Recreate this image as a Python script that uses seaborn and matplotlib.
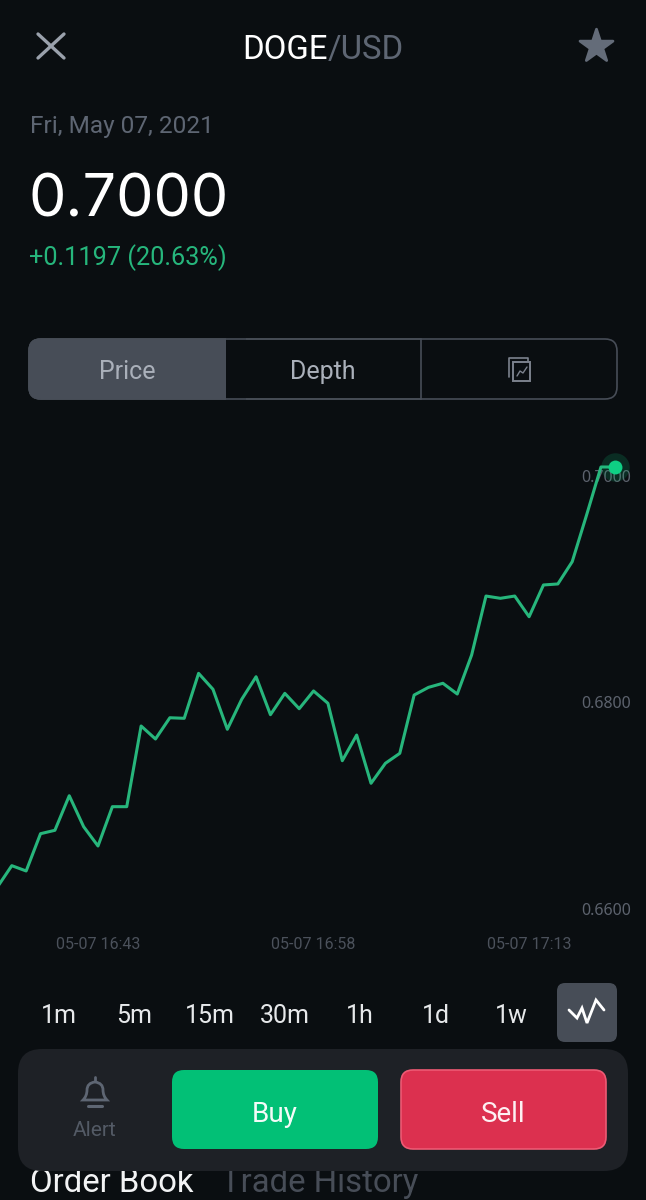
import matplotlib
matplotlib.use("Agg")
import matplotlib.pyplot as plt
from matplotlib.patches import FancyBboxPatch, Rectangle
from matplotlib.path import Path
from matplotlib.patches import PathPatch
from matplotlib.transforms import ScaledTranslation
import pandas as pd
import seaborn as sns

# price per minute, 16:36 to 17:19
minutes = list(range(-7, 37))
prices = [0.66283, 0.66472, 0.66425, 0.66755, 0.66785, 0.67091, 0.66817, 0.66646,
          0.66994, 0.66994, 0.67708, 0.67593, 0.67781, 0.67776, 0.68174, 0.68033,
          0.67679, 0.67944, 0.68144, 0.67808, 0.67997, 0.67861, 0.68018, 0.67909,
          0.67401, 0.67628, 0.67201, 0.67378, 0.67466, 0.67982, 0.68050, 0.68086,
          0.67991, 0.68336, 0.68858, 0.68838, 0.68858, 0.68675, 0.68956, 0.68965,
          0.69162, 0.69575, 0.70000, 0.70000]
price_ticks = [0.66, 0.68, 0.70]
price_labels = ["0.6600", "0.6800", "0.7000"]
time_ticks = [0, 15, 30]
time_labels = ["05-07 16:43", "05-07 16:58", "05-07 17:13"]
ranges = ["1m", "5m", "15m", "30m", "1h", "1d", "1w"]
range_x = [59, 134, 210, 285, 360, 436, 511]

BG = "#0a0e11"
GREY = "#5e6673"
TILE = "#474d57"
PANEL = "#1e2126"
LINE = "#27b67c"
DOT = "#0fcf84"

W, H = 646, 1200

sns.set_theme(style="dark")
plt.rcParams["font.family"] = ["Roboto", "DejaVu Sans"]

fig = plt.figure(figsize=(W / 100, H / 100), dpi=100, facecolor=BG)

# ui layer, in screen pixels
ui = fig.add_axes([0, 0, 1, 1], zorder=0)
ui.set_xlim(0, W)
ui.set_ylim(H, 0)
ui.axis("off")


def box(x0, y0, x1, y1, r, color, edge="none", lw=0, z=2):
    p = FancyBboxPatch((x0 + r, y0 + r), x1 - x0 - 2 * r, y1 - y0 - 2 * r,
                       boxstyle=f"round,pad={r},rounding_size={r}",
                       fc=color, ec=edge, lw=lw, zorder=z)
    ui.add_patch(p)
    return p


def label(x, y, s, size, color, ha="center", va="center", z=5, family=None):
    kw = {"family": family} if family else {}
    ui.text(x, y, s, fontsize=size, color=color, ha=ha, va=va, zorder=z, **kw)


# header
ui.plot([38, 64], [34, 58], color="#9aa1ac", lw=2.4, solid_capstyle="round")
ui.plot([38, 64], [58, 34], color="#9aa1ac", lw=2.4, solid_capstyle="round")
label(328, 50, "DOGE", 23.7, "white", ha="right")
label(328, 50, "/USD", 23.7, GREY, ha="left")
ui.scatter([595.5], [46], marker="*", s=620, color="#646c79", linewidths=2,
           edgecolors="#646c79", zorder=3)

label(30, 127, "Fri, May 07, 2021", 17.6, GREY, ha="left")
label(29, 201, "0.7000", 42.7, "white", ha="left", family="Inter")
label(29, 258, "+0.1197 (20.63%)", 18.2, "#26b67c", ha="left")

# price / depth tabs
box(29, 339, 617, 399, 12, BG, edge=TILE, lw=1.2)
price_tab = box(29, 339, 240, 399, 12, TILE, edge=TILE, lw=1.2, z=3)
ui.add_patch(Rectangle((226, 335), 20, 70, fc=BG, ec="none", zorder=4))
ui.plot([226, 421], [339, 339], color=TILE, lw=1.2, zorder=5)
ui.plot([226, 421], [399, 399], color=TILE, lw=1.2, zorder=5)
ui.plot([421, 421], [339, 399], color=TILE, lw=1.2, zorder=5)
label(127, 372, "Price", 18, "#aab0ba")
label(323, 372, "Depth", 18, "#aab0ba")
ui.plot([528, 528, 509, 509], [361, 358, 358, 377], color="#7c828d", lw=1.2, zorder=5)
ui.add_patch(Rectangle((513, 362), 17, 19, fc="none", ec="#7c828d", lw=1.4, zorder=5))
ui.plot([517, 520, 523, 527], [376, 371, 373, 367], color="#7c828d", lw=1, zorder=5)

# range selector
for x, s in zip(range_x, ranges):
    label(x, 1016, s, 18, "#e6e8ea")
box(557, 983, 617, 1042, 8, TILE)
ui.plot([569, 577, 582, 587, 596, 604], [1010, 1018, 1008, 1023, 1000, 1010],
        color="white", lw=2, zorder=5, solid_joinstyle="miter")

# tabs that slide under the action panel
label(30, 1183, "Order Book", 23.7, "#f2f3f4", ha="left", z=1)
label(221, 1183, "Trade History", 23.7, TILE, ha="left", z=1)

# action panel
box(18, 1049, 628, 1171, 24, PANEL)
box(172, 1070, 378, 1149, 12, "#02c076", z=3)
box(401, 1070, 606, 1149, 12, "#dc304f", edge="#ee5a74", lw=1.2, z=3)
label(275, 1114, "Buy", 20, "#f4fbf8")
label(503, 1114, "Sell", 20, "#fdf0f2")
label(95, 1131, "Alert", 15, "#535a65")

# bell
bell = Path([(83, 1100), (87, 1096), (87, 1090), (87, 1083), (95, 1082), (95, 1082),
             (95, 1082), (103, 1083), (103, 1090), (103, 1096), (107, 1100), (83, 1100)],
            [Path.MOVETO, Path.CURVE3, Path.CURVE3, Path.CURVE3, Path.CURVE3, Path.LINETO,
             Path.LINETO, Path.CURVE3, Path.CURVE3, Path.CURVE3, Path.CURVE3, Path.CLOSEPOLY])
ui.add_patch(PathPatch(bell, fc="none", ec=GREY, lw=2, zorder=5))
ui.plot([95, 95], [1077, 1081], color=GREY, lw=2, zorder=5)
ui.plot([88, 102], [1106, 1106], color=GREY, lw=2.2, zorder=5)

# chart itself, top of axes is 0.70 and bottom is 0.66
ax = fig.add_axes([0, 1 - 919 / H, 1, (919 - 467) / H], zorder=1)
ax.patch.set_alpha(0)
df = pd.DataFrame({"minute": minutes, "price": prices})
sns.lineplot(data=df, x="minute", y="price", ax=ax, color=LINE, linewidth=2.2,
             clip_on=False, errorbar=None)
last = df.tail(1)
sns.scatterplot(data=last, x="minute", y="price", ax=ax, color=DOT, s=420, alpha=0.16,
                linewidth=0, clip_on=False, zorder=4)
sns.scatterplot(data=last, x="minute", y="price", ax=ax, color=DOT, s=100,
                linewidth=0, clip_on=False, zorder=5)

ax.set_xlim(-98 / 14.37, (W - 98) / 14.37)
ax.set_ylim(0.66, 0.70)
ax.set_xlabel("")
ax.set_ylabel("")
ax.grid(False)
sns.despine(ax=ax, left=True, bottom=True)

ax.set_xticks(time_ticks, time_labels)
ax.tick_params(axis="x", length=0, pad=13, labelsize=11.5, labelcolor="#4b515b")
ax.yaxis.tick_right()
ax.set_yticks(price_ticks, price_labels)
ax.tick_params(axis="y", length=0, pad=-10.8, labelsize=11.5, labelcolor="#5c626d")
nudge = ScaledTranslation(0, -0.03, fig.dpi_scale_trans)
for t, va in zip(ax.get_yticklabels(), ["bottom", "top", "top"]):
    t.set_ha("right")
    t.set_va(va)
    t.set_family(["Noto Sans", "DejaVu Sans"])
    if va == "top":
        t.set_transform(t.get_transform() + nudge)

fig.savefig("out.png", dpi=100, facecolor=BG)
